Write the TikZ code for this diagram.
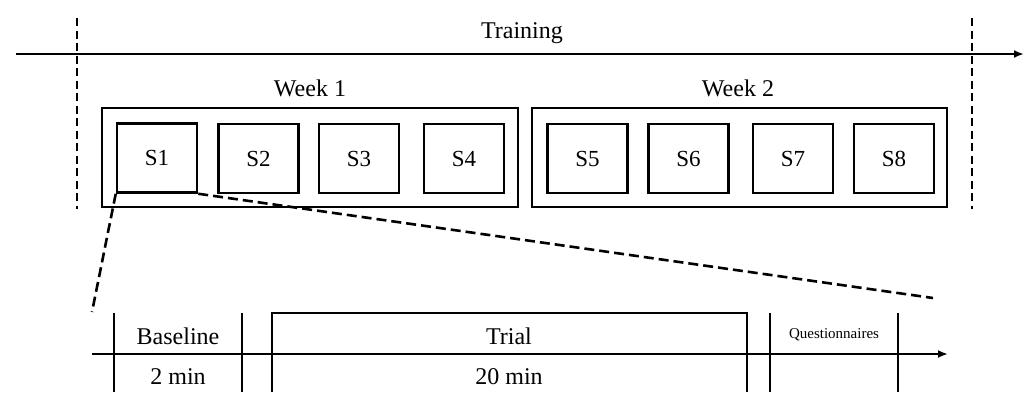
\documentclass[tikz,border=0pt]{standalone}
\usepackage{fontspec}
\setmainfont{Liberation Serif}
\usetikzlibrary{arrows.meta}
\begin{document}
\begin{tikzpicture}[x=1pt,y=-1pt,
  sbox/.style={draw,line width=2.5pt,minimum width=80pt,minimum height=69pt,inner sep=0pt,font=\fontsize{23}{26}\selectfont},
  wbox/.style={draw,line width=2.5pt,minimum height=99pt,inner sep=0pt},
  lbl/.style={inner sep=0pt,font=\fontsize{24}{27}\selectfont},
  small/.style={inner sep=0pt,font=\fontsize{15}{17}\selectfont},
  axis/.style={line width=2.2pt,-{Latex[length=10pt,width=8pt]}},
  vdash/.style={line width=2.4pt,dash pattern=on 8pt off 4.5pt},
  zdash/.style={line width=2.6pt,dash pattern=on 10pt off 5pt},
  cell/.style={line width=2.5pt}]
\useasboundingbox (0,0) rectangle (1029,392);
% top timeline
\coordinate (ta) at (16,54);
\coordinate (tb) at (1024,54);
\draw[axis] (ta) -- (tb);
\node[lbl] (train) at (522,33) {Training};
\coordinate (d1a) at (77,18); \coordinate (d1b) at (77,209);
\coordinate (d2a) at (972,18); \coordinate (d2b) at (972,209);
\draw[vdash] (d1a) -- (d1b);
\draw[vdash] (d2a) -- (d2b);
% weeks
\node[wbox,minimum width=416pt] (w1) at (310,157.5) {};
\node[wbox,minimum width=415pt] (w2) at (739.5,157.5) {};
\node[lbl] (wk1) at (310,88) {Week 1};
\node[lbl] (wk2) at (738,88) {Week 2};
% sessions
\node[sbox] (s1) at (157,158) {S1};
\node[sbox] (s2) at (258.5,158.5) {S2};
\node[sbox] (s3) at (359,158.5) {S3};
\node[sbox] (s4) at (464,158.5) {S4};
\node[sbox] (s5) at (587.5,158.5) {S5};
\node[sbox] (s6) at (688.5,158.5) {S6};
\node[sbox] (s7) at (793,158.5) {S7};
\node[sbox] (s8) at (894,158.5) {S8};
% zoom lines
\coordinate (z1) at (92,312);
\coordinate (z2) at (933,298);
\draw[zdash] (s1.south west) -- (z1);
\draw[zdash] (s1.south east) -- (z2);
% bottom timeline
\coordinate (ba) at (92,354);
\coordinate (bb) at (948,354);
\draw[axis] (ba) -- (bb);
\coordinate (b1t) at (114,313); \coordinate (b1b) at (114,392);
\coordinate (b2t) at (242,313); \coordinate (b2b) at (242,392);
\draw[cell] (b1t) -- (b1b);
\draw[cell] (b2t) -- (b2b);
\coordinate (t1b) at (272,392); \coordinate (t1t) at (272,313);
\coordinate (t2t) at (747,313); \coordinate (t2b) at (747,392);
\draw[cell] (t1b) -- (t1t) -- (t2t) -- (t2b);
\coordinate (q1t) at (770,313); \coordinate (q1b) at (770,392);
\coordinate (q2t) at (898,313); \coordinate (q2b) at (898,392);
\draw[cell] (q1t) -- (q1b);
\draw[cell] (q2t) -- (q2b);
\node[lbl] (base) at (178,336) {Baseline};
\node[lbl] (bmin) at (178,377) {2 min};
\node[lbl] (trial) at (509,336) {Trial};
\node[lbl] (tmin) at (509,377) {20 min};
\node[small] (quest) at (834,335) {Questionnaires};
\end{tikzpicture}
\end{document}
